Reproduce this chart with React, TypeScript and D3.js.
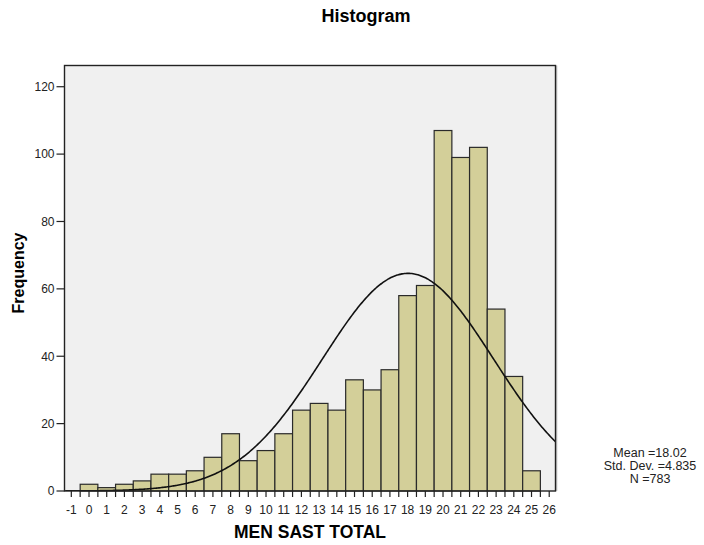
import React from "react";
import * as d3 from "d3";

const binCenters = [0, 1, 2, 3, 4, 5, 6, 7, 8, 9, 10, 11, 12, 13, 14, 15, 16, 17, 18, 19, 20, 21, 22, 23, 24, 25];
const frequencies = [2, 1, 2, 3, 5, 5, 6, 10, 17, 9, 12, 17, 24, 26, 24, 33, 30, 36, 58, 61, 107, 99, 102, 54, 34, 6];
const xTickLabels = [-1, 0, 1, 2, 3, 4, 5, 6, 7, 8, 9, 10, 11, 12, 13, 14, 15, 16, 17, 18, 19, 20, 21, 22, 23, 24, 25, 26];
const yTickLabels = [0, 20, 40, 60, 80, 100, 120];
const mean = 18.02;
const stdDev = 4.835;
const nTotal = 783;
const binWidth = 1;

export default function App() {
  const W = 704, H = 545;
  const left = 64.5, right = 555.5, top = 65.5, bottom = 491;
  const x = d3.scaleLinear().domain([-1.385, 26.355]).range([left, right]);
  const y = d3.scaleLinear().domain([0, 126.3]).range([bottom, top]);

  const minorTicks = d3.range(-1, 26.001, 0.5);

  const curvePts = d3.range(0, 401).map((i) => {
    const v = -1.385 + (i / 400) * (26.355 + 1.385);
    const z = (v - mean) / stdDev;
    const f = (nTotal * binWidth) / (stdDev * Math.sqrt(2 * Math.PI)) * Math.exp(-0.5 * z * z);
    return [v, f] as [number, number];
  });
  const line = d3.line<[number, number]>().x((d) => x(d[0])).y((d) => y(d[1])).curve(d3.curveBasis);

  const font = "'Liberation Sans', Arial, sans-serif";

  return (
    <svg width={W} height={H} style={{ position: "absolute", left: 0, top: 0 }} fontFamily={font}>
      <rect x={0} y={0} width={W} height={H} fill="#ffffff" />
      <text x={366} y={22} textAnchor="middle" fontSize={18} fontWeight="bold" fill="#000">Histogram</text>

      <rect x={left} y={top} width={right - left} height={bottom - top} fill="#f0f0f0" />
      <clipPath id="plotclip">
        <rect x={left} y={top} width={right - left} height={bottom - top} />
      </clipPath>

      {binCenters.map((c, i) => (
        <rect
          key={c}
          x={x(c - binWidth / 2)}
          y={y(frequencies[i])}
          width={x(c + binWidth / 2) - x(c - binWidth / 2)}
          height={bottom - y(frequencies[i])}
          fill="#d3cf99"
          stroke="#2a2a2a"
          strokeWidth={1.2}
        />
      ))}

      <path d={line(curvePts) || ""} fill="none" stroke="#111" strokeWidth={1.6} clipPath="url(#plotclip)" />

      <rect x={left} y={top} width={right - left} height={bottom - top} fill="none" stroke="#222" strokeWidth={1.4} />
      <line x1={right + 1.2} y1={top} x2={right + 1.2} y2={bottom} stroke="#999" strokeWidth={1} />

      {yTickLabels.map((t) => (
        <g key={t}>
          <line x1={left - 8} x2={left} y1={y(t)} y2={y(t)} stroke="#222" strokeWidth={1.2} />
          <text x={left - 10} y={y(t) + 4.3} textAnchor="end" fontSize={12} fill="#222">{t}</text>
        </g>
      ))}

      {minorTicks.map((t) => (
        <line key={t} x1={x(t)} x2={x(t)} y1={bottom} y2={bottom + 6} stroke="#222" strokeWidth={1.2} />
      ))}
      {xTickLabels.map((t) => (
        <text key={t} x={x(t)} y={514} textAnchor="middle" fontSize={12} fill="#222">{t}</text>
      ))}

      <text x={310} y={538} textAnchor="middle" fontSize={17.5} fontWeight="bold" fill="#000">MEN SAST TOTAL</text>
      <text transform={`translate(24,273) rotate(-90)`} textAnchor="middle" fontSize={16} fontWeight="bold" fill="#000">Frequency</text>

      <text x={650} y={456.5} textAnchor="middle" fontSize={12.5} fill="#222">Mean =18.02</text>
      <text x={650} y={470} textAnchor="middle" fontSize={12.5} fill="#222">Std. Dev. =4.835</text>
      <text x={650} y={483.3} textAnchor="middle" fontSize={12.5} fill="#222">N =783</text>
    </svg>
  );
}
